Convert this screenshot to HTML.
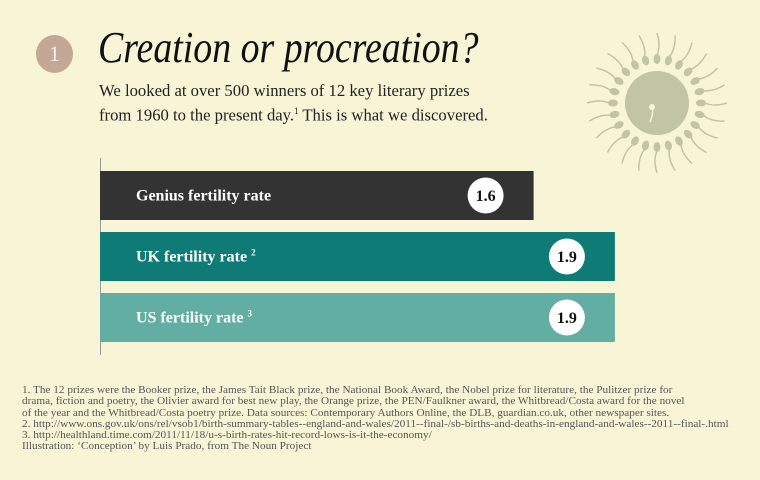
<!DOCTYPE html>
<html><head><meta charset="utf-8"><style>
html,body{margin:0;padding:0}
body{width:760px;height:480px;background:#f7f5d6;position:relative;overflow:hidden;font-family:"Liberation Serif",serif}
.abs{position:absolute}
</style></head><body>
<div class="abs" style="left:36px;top:35px;width:37px;height:38px;border-radius:50%;background:#c4a795;color:#f7f0e6;font-size:22px;text-align:center;line-height:38px">1</div>
<div class="abs" style="left:98px;top:22px;font-size:44px;font-style:italic;color:#111;transform:scaleX(0.86);transform-origin:left;white-space:nowrap">Creation or procreation?</div>
<div class="abs" style="left:99px;top:80px;font-size:17px;line-height:21px;color:#222;transform:scaleX(0.98);transform-origin:left;white-space:nowrap">We looked at over 500 winners of 12 key literary prizes<br>from 1960 to the present day.<sup style="font-size:9px">1</sup> This is what we discovered.</div>
<svg class="abs" style="left:586px;top:27px" width="150" height="160" viewBox="0 0 150 160">
<g id="rays" fill="#c3c4a6" stroke="#c3c4a6"></g>
<circle cx="71" cy="76" r="32" fill="#c3c4a6"/>
<path d="M64 95 q4-10 2-14" stroke="#f7f5d6" stroke-width="1.5" fill="none"/><circle cx="66" cy="80" r="3" fill="#f7f5d6"/>
</svg>
<svg class="abs" style="left:0;top:0" width="760" height="480" id="chart"></svg>
<div class="abs" style="left:22px;top:385px;font-size:10.5px;line-height:11.3px;color:#555;transform:scaleX(1.07);transform-origin:left;white-space:nowrap">1. The 12 prizes were the Booker prize, the James Tait Black prize, the National Book Award, the Nobel prize for literature, the Pulitzer prize for<br>drama, fiction and poetry, the Olivier award for best new play, the Orange prize, the PEN/Faulkner award, the Whitbread/Costa award for the novel<br>of the year and the Whitbread/Costa poetry prize. Data sources: Contemporary Authors Online, the DLB, guardian.co.uk, other newspaper sites.<br>2. http://www.ons.gov.uk/ons/rel/vsob1/birth-summary-tables--england-and-wales/2011--final-/sb-births-and-deaths-in-england-and-wales--2011--final-.html<br>3. http://healthland.time.com/2011/11/18/u-s-birth-rates-hit-record-lows-is-it-the-economy/<br>Illustration: ‘Conception’ by Luis Prado, from The Noun Project</div>
<script>
const categories=["Genius fertility rate","UK fertility rate","US fertility rate"];
const sups=["","2","3"];
const values=[1.6,1.9,1.9];
const labels=["1.6","1.9","1.9"];
const colors=["#333333","#0e7b77","#62aea3"];
const NS="http://www.w3.org/2000/svg";
const svg=document.getElementById('chart');
const x0=100, scale=271;
const xs=v=>x0+v*scale;
const ys=i=>171+i*61;
const bh=49;
function mk(t,a){const e=document.createElementNS(NS,t);for(const k in a)e.setAttribute(k,a[k]);svg.appendChild(e);return e;}
const ax=mk('line',{x1:100.5,x2:100.5,y1:158,y2:355,stroke:'#999','stroke-width':1});


categories.forEach((c,i)=>{
 const r=mk('rect',{x:x0,y:ys(i),width:xs(values[i])-x0,height:bh,fill:colors[i]});
 
 
 const t=mk('text',{x:136,y:ys(i)+bh/2+5,fill:'#fff','font-size':16,'font-weight':'bold','font-family':'Liberation Serif, serif'});
 t.textContent=c+(sups[i]?' ':'');
 if(sups[i]){const s=document.createElementNS(NS,'tspan');s.setAttribute('font-size',9);s.setAttribute('dy',-6);s.textContent=sups[i];t.appendChild(s);}
 
 
 const cx=xs(values[i])-48;
 const ci=mk('circle',{cx:cx,cy:ys(i)+bh/2,r:18,fill:'#fff'});
 
 
 const vt=mk('text',{x:cx,y:ys(i)+bh/2+5.5,'text-anchor':'middle','font-size':16,'font-weight':'bold',fill:'#111','font-family':'Liberation Serif, serif'});
 vt.textContent=labels[i];
 
 
});
const g=document.getElementById('rays');
for(let k=0;k<24;k++){
 const a=k/24*Math.PI*2, c=Math.cos(a), s=Math.sin(a);
 const r1=44, r2=70;
 const hx=71+c*r1, hy=76+s*r1;
 const e=document.createElementNS(NS,'ellipse');
 e.setAttribute('cx',hx);e.setAttribute('cy',hy);e.setAttribute('rx',5);e.setAttribute('ry',3.5);
 e.setAttribute('transform',`rotate(${a*180/Math.PI} ${hx} ${hy})`);e.setAttribute('stroke','none');
 g.appendChild(e);
 const p=document.createElementNS(NS,'path');
 const mx=71+c*57-s*4, my=76+s*57+c*4;
 p.setAttribute('d',`M${hx+c*4} ${hy+s*4} Q${mx} ${my} ${71+c*r2} ${76+s*r2}`);
 p.setAttribute('fill','none');p.setAttribute('stroke-width','1.5');
 g.appendChild(p);
}
</script>
</body></html>
